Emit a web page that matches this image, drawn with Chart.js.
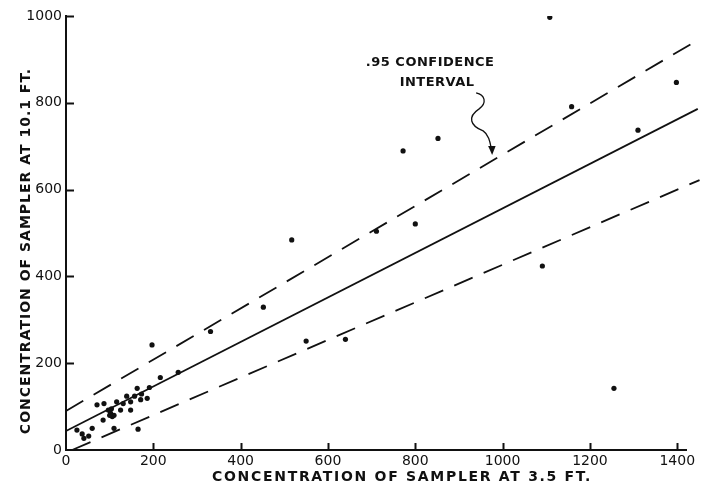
<!DOCTYPE html>
<html>
<head>
<meta charset="utf-8">
<script src="https://cdn.jsdelivr.net/npm/chart.js@4.4.1/dist/chart.umd.min.js"></script>
<style>
  html, body { margin: 0; padding: 0; background: #fff; }
  #wrap { width: 712px; height: 488px; position: relative; }
</style>
</head>
<body>
<div id="wrap"><canvas id="c" width="712" height="488"></canvas></div>
<script>
// Axis ticks
const xTicks = [0, 200, 400, 600, 800, 1000, 1200, 1400];
const yTicks = [0, 200, 400, 600, 800, 1000];

// Paired samples: concentration at 3.5 ft (x) and at 10.1 ft (y)
const conc35 = [
  1108, 1398, 1158, 1310, 852, 772, 711, 800, 1091, 1255, 517, 452, 331, 550, 640,
  197, 216, 257, 191, 186, 171, 173, 163, 148, 148, 139, 131, 125, 116, 87,
  71, 85, 110, 165, 25, 37, 41, 52, 60, 97, 102, 106, 110, 100, 104, 157
];
const conc101 = [
  997, 847, 791, 737, 718, 689, 504, 521, 424, 142, 484, 329, 273, 251, 255,
  242, 167, 179, 144, 119, 116, 129, 142, 111, 92, 124, 107, 92, 111, 107,
  104, 69, 50, 48, 46, 37, 27, 32, 50, 92, 85, 77, 80, 80, 95, 124
];

// Regression line and .95 confidence limits (end points)
const fitX = [0, 1447],   fitY = [44, 786];
const upperX = [0, 1431], upperY = [90, 935];
const lowerX = [14, 1451], lowerY = [0, 622];

// Texts
const xTitle = 'CONCENTRATION OF SAMPLER AT 3.5 FT.';
const yTitle = 'CONCENTRATION OF SAMPLER AT 10.1 FT.';
const noteLines = ['.95 CONFIDENCE', 'INTERVAL'];
// Note anchors (data units) and arrow tip
const noteAnchorX = [834, 850], noteAnchorY = [892, 846];
const arrowTip = { x: 976, y: 680 };

const FONT = '"DejaVu Sans", "Liberation Sans", sans-serif';
const INK = '#111';

const pts = conc35.map((x, i) => ({ x, y: conc101[i] }));
const seg = (xs, ys) => xs.map((x, i) => ({ x, y: ys[i] }));

const paperPlugin = {
  id: 'paper',
  afterDraw(chart) {
    const ctx = chart.ctx;
    const xs = chart.scales.x, ys = chart.scales.y;
    const area = chart.chartArea;
    ctx.save();
    ctx.strokeStyle = INK;
    ctx.lineWidth = 2;
    // inward tick marks
    xTicks.forEach(v => {
      if (v === 0) return;
      const px = Math.round(xs.getPixelForValue(v)) + 0.5;
      ctx.beginPath(); ctx.moveTo(px, area.bottom); ctx.lineTo(px, area.bottom - 7); ctx.stroke();
    });
    yTicks.forEach(v => {
      if (v === 0) return;
      const py = Math.round(ys.getPixelForValue(v)) + 0.5;
      ctx.beginPath(); ctx.moveTo(area.left, py); ctx.lineTo(area.left + 8, py); ctx.stroke();
    });

    // axis titles
    ctx.fillStyle = INK;
    ctx.font = 'bold 14px ' + FONT;
    ctx.textAlign = 'center';
    ctx.textBaseline = 'middle';
    ctx.letterSpacing = '1.7px';
    ctx.fillText(xTitle, 402, 477);
    ctx.letterSpacing = '1px';
    ctx.save();
    ctx.translate(26, 251);
    ctx.rotate(-Math.PI / 2);
    ctx.fillText(yTitle, 0, 0);
    ctx.restore();

    // note text
    ctx.font = 'bold 13px ' + FONT;
    ctx.letterSpacing = '0.5px';
    noteLines.forEach((t, i) => {
      ctx.fillText(t, xs.getPixelForValue(noteAnchorX[i]), ys.getPixelForValue(noteAnchorY[i]));
    });
    ctx.letterSpacing = '0px';

    // wavy arrow to the upper limit
    const tx = xs.getPixelForValue(arrowTip.x), ty = ys.getPixelForValue(arrowTip.y);
    ctx.lineWidth = 1.3;
    ctx.beginPath();
    ctx.moveTo(tx - 16, ty - 62);
    ctx.bezierCurveTo(tx - 7, ty - 60, tx - 5, ty - 52, tx - 13, ty - 46);
    ctx.bezierCurveTo(tx - 25, ty - 38, tx - 22, ty - 29, tx - 9, ty - 24);
    ctx.bezierCurveTo(tx - 3, ty - 20, tx - 2, ty - 12, tx - 0.5, ty - 5);
    ctx.stroke();
    ctx.beginPath();
    ctx.moveTo(tx - 4, ty - 9);
    ctx.lineTo(tx + 3.5, ty - 9);
    ctx.lineTo(tx, ty);
    ctx.closePath();
    ctx.fill();
    ctx.restore();
  }
};

const plainTick = v => String(v);

new Chart(document.getElementById('c'), {
  type: 'scatter',
  data: {
    datasets: [
      {
        label: 'samples', data: pts,
        pointRadius: 2.6, pointHoverRadius: 2.6,
        backgroundColor: INK, borderWidth: 0
      },
      {
        type: 'line', label: 'fit', data: seg(fitX, fitY),
        borderColor: INK, borderWidth: 1.7, pointRadius: 0, fill: false, clip: false
      },
      {
        type: 'line', label: 'upper', data: seg(upperX, upperY),
        borderColor: INK, borderWidth: 1.8, borderDash: [20, 12], pointRadius: 0, fill: false, clip: false
      },
      {
        type: 'line', label: 'lower', data: seg(lowerX, lowerY),
        borderColor: INK, borderWidth: 1.8, borderDash: [20, 12], pointRadius: 0, fill: false, clip: false
      }
    ]
  },
  options: {
    responsive: false,
    animation: false,
    devicePixelRatio: 1,
    layout: { padding: { top: 16, right: 26, left: 0, bottom: 0 } },
    plugins: { legend: { display: false }, tooltip: { enabled: false } },
    scales: {
      x: {
        type: 'linear', min: 0, max: 1420,
        afterBuildTicks: s => { s.ticks = xTicks.map(v => ({ value: v })); },
        afterFit: s => { s.height = 38; },
        ticks: { color: INK, font: { family: FONT, size: 14 }, padding: 3, maxRotation: 0, autoSkip: false, callback: plainTick },
        grid: { display: true, drawOnChartArea: false, drawTicks: false },
        border: { display: true, color: INK, width: 2 }
      },
      y: {
        type: 'linear', min: 0, max: 1000,
        afterBuildTicks: s => { s.ticks = yTicks.map(v => ({ value: v })); },
        afterFit: s => { s.width = 66; },
        ticks: { color: INK, font: { family: FONT, size: 14 }, padding: 4, autoSkip: false, callback: plainTick },
        grid: { display: true, drawOnChartArea: false, drawTicks: false },
        border: { display: true, color: INK, width: 2 }
      }
    }
  },
  plugins: [paperPlugin]
});
</script>
</body>
</html>
